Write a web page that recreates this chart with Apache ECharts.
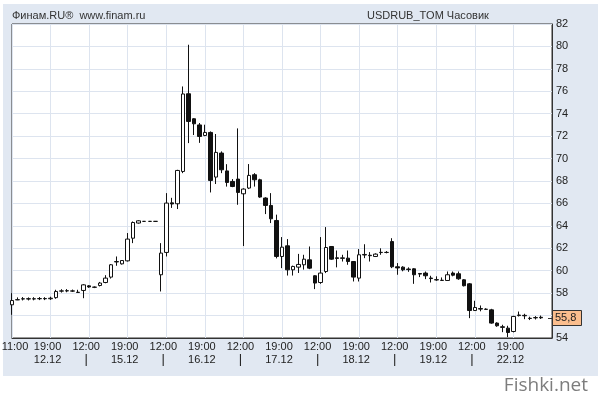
<!DOCTYPE html>
<html>
<head>
<meta charset="utf-8">
<script src="https://cdn.jsdelivr.net/npm/echarts@6/dist/echarts.min.js"></script>
<style>
html,body{margin:0;padding:0;background:#fff;}
#bg{position:absolute;left:3px;top:4px;width:595px;height:372px;background:#e1e8f2;}
#chart{position:absolute;left:0;top:0;width:600px;height:403px;}
</style>
</head>
<body>
<div id="bg"></div>
<div id="chart"></div>
<script>
// ---- data (hourly candles, USDRUB_TOM) ----
const timeTicks = ['11:00','19:00','12:00','19:00','12:00','19:00','12:00','19:00','12:00','19:00','12:00','19:00','12:00','19:00'];
const dateTicks = ['12.12','15.12','16.12','17.12','18.12','19.12','22.12'];
const slotCount = 99;

const opens = [56.96,57.40,57.48,57.50,57.48,57.50,57.52,57.50,57.60,58.18,58.20,58.20,58.08,58.24,58.65,58.52,58.68,58.95,59.43,60.78,60.61,60.88,62.90,64.25,64.40,64.40,64.40,
59.64,61.63,66.05,65.97,68.85,75.78,73.55,73.00,72.06,72.33,68.35,70.49,68.90,67.96,68.17,66.86,67.37,68.56,68.11,66.48,65.82,64.48,61.27,62.22,60.08,60.32,60.53,60.97,
59.55,58.95,59.93,62.16,61.15,61.10,61.12,60.82,59.34,61.40,61.38,61.27,61.62,61.63,62.60,60.35,60.32,60.15,60.17,59.75,59.79,59.35,59.20,59.13,59.13,59.79,59.73,59.19,
58.83,56.45,56.62,56.57,56.51,55.33,55.00,54.88,54.58,56.00,56.02,55.76,55.82,55.85];
const closes = [57.34,57.42,57.50,57.48,57.50,57.52,57.50,57.55,58.15,58.20,58.22,58.18,58.06,58.74,58.55,58.54,58.90,59.34,60.53,60.82,60.91,62.82,64.30,64.45,64.40,64.40,64.40,
61.57,66.03,65.95,68.94,75.76,73.31,73.10,71.97,72.33,68.05,70.55,69.00,67.87,67.51,66.98,67.28,68.50,68.11,66.57,65.82,64.63,61.27,62.10,60.08,60.38,60.56,61.03,60.23,
58.90,59.79,62.07,61.03,61.10,61.15,60.82,59.43,61.42,61.45,61.34,61.48,61.64,61.63,60.35,60.25,60.08,60.10,59.64,59.70,59.55,59.30,59.18,59.15,59.64,59.60,59.28,58.66,
56.45,56.72,56.58,56.55,55.33,55.09,54.95,54.49,55.92,56.05,55.98,55.74,55.80,55.80];
const lows = [56.07,57.38,57.35,57.35,57.36,57.38,57.38,57.40,57.50,58.05,58.08,58.10,58.04,57.55,58.48,58.45,58.60,58.88,59.30,60.44,60.55,60.82,62.46,64.20,64.38,64.38,64.38,
58.15,61.27,65.60,65.50,68.70,71.38,72.10,71.40,72.00,66.98,67.73,68.70,67.50,67.45,65.88,62.20,67.28,67.50,66.50,65.05,64.25,61.10,60.23,59.57,59.57,59.80,60.10,60.14,
58.36,58.83,59.79,60.97,60.30,60.82,60.53,59.04,59.04,61.12,60.82,61.22,61.42,61.55,60.23,59.64,59.95,59.90,58.83,59.43,59.25,58.95,59.10,59.10,59.10,59.50,59.19,58.60,
55.77,56.43,56.38,56.50,55.27,55.00,54.52,54.08,54.50,55.92,55.68,55.60,55.65,55.70];
const highs = [58.00,57.62,57.65,57.62,57.64,57.65,57.64,57.68,58.30,58.35,58.36,58.32,58.30,58.80,58.72,58.60,59.00,59.60,60.60,61.27,60.95,63.36,64.39,64.50,64.42,64.42,64.42,
62.46,66.92,66.50,69.00,76.43,80.15,73.60,73.17,73.02,72.42,72.19,70.64,69.50,68.17,72.69,67.35,69.51,68.70,68.20,66.55,66.92,65.00,63.00,62.82,60.45,61.50,61.42,62.16,
59.60,63.00,63.89,62.20,61.80,61.42,61.80,60.85,61.93,62.36,61.66,61.55,62.00,61.75,62.90,60.68,60.40,60.30,60.23,59.80,59.93,59.55,59.50,59.40,59.93,59.93,59.93,59.25,
58.90,57.32,56.90,56.65,56.60,55.40,55.18,55.09,55.98,56.36,56.16,55.90,55.95,56.00];
const yMin = 54, yMax = 82, yStep = 2;
const headerLeft = 'Финам.RU®  www.finam.ru';
const headerRight = 'USDRUB_TOM Часовик';
const watermark = 'Fishki.net';

// ---- build ----
const slots = [];
for (let i = 0; i < slotCount; i++) slots.push(String(i));
const candles = opens.map((o, i) => [o, closes[i], lows[i], highs[i]]);
const lastClose = closes[closes.length - 1];
const FONT = '"Liberation Sans", Arial, sans-serif';

const chart = echarts.init(document.getElementById('chart'), null, {renderer: 'canvas'});
chart.setOption({
  animation: false,
  backgroundColor: 'transparent',
  textStyle: {fontFamily: FONT, fontSize: 11, color: '#222'},
  grid: {left: 12, right: 48, top: 24, bottom: 65, show: true, backgroundColor: '#fff', borderColor: '#333', borderWidth: 1,
         containLabel: false, outerBoundsMode: 'none'},
  xAxis: {
    type: 'category', data: slots, boundaryGap: false,
    axisLine: {show: true, lineStyle: {color: '#333', width: 1}},
    axisTick: {show: false},
    splitLine: {show: true, interval: 6, lineStyle: {color: '#dde4ef', width: 1}},
    axisLabel: {
      interval: function (i) { return i % 7 === 0 && i / 7 < timeTicks.length; },
      margin: 3,
      hideOverlap: false,
      fontFamily: FONT, fontSize: 11, color: '#222', lineHeight: 12.5,
      formatter: function (v, i) {
        const k = i / 7;
        if (k === 0) return '{f|' + timeTicks[0] + '}\n{f|}';
        let second;
        if (k % 2 === 1) second = '{t|' + dateTicks[(k - 1) / 2] + '}';
        else second = '{s||}';
        return '{t|' + timeTicks[k] + '}\n' + second;
      },
      rich: {
        t: {fontFamily: FONT, fontSize: 11, color: '#222', lineHeight: 12.5, padding: [0, 6, 0, 0]},
        f: {fontFamily: FONT, fontSize: 11, color: '#222', lineHeight: 12.5, padding: [0, 0, 0, 6]},
        s: {fontFamily: FONT, fontSize: 13, color: '#222', lineHeight: 12.5, padding: [0, 6, 0, 0]}
      }
    }
  },
  yAxis: {
    type: 'value', position: 'right', min: yMin, max: yMax, interval: yStep,
    axisLine: {show: true, lineStyle: {color: '#333', width: 1}},
    axisTick: {show: false},
    splitLine: {show: true, lineStyle: {color: '#dde4ef', width: 1}},
    axisLabel: {margin: 4, fontFamily: FONT, fontSize: 11, color: '#222'}
  },
  series: [{
    type: 'candlestick',
    data: candles,
    barWidth: 4,
    itemStyle: {color: '#fff', color0: '#111', borderColor: '#111', borderColor0: '#111', borderColorDoji: '#111', borderWidth: 1}
  }]
});

const py = chart.convertToPixel({yAxisIndex: 0}, lastClose);
const priceText = lastClose.toFixed(1).replace('.', ',');
chart.setOption({
  graphic: {elements: [
    {type: 'text', left: 12, top: 10, style: {text: headerLeft, font: '11px ' + FONT, fill: '#333'}},
    {type: 'text', left: 367, top: 10, style: {text: headerRight, font: '11px ' + FONT, fill: '#333'}},
    {type: 'text', x: 588, y: 386, style: {text: watermark, align: 'right', verticalAlign: 'middle', font: '19px "Open Sans", sans-serif', fill: '#7d7d7d'}},
    {type: 'line', shape: {x1: 548, y1: Math.round(py) + 0.5, x2: 552, y2: Math.round(py) + 0.5}, style: {stroke: '#333', lineWidth: 1}, z: 100},
    {type: 'rect', shape: {x: 552.5, y: Math.round(py - 7.5) + 0.5, width: 29, height: 15}, style: {fill: '#fbbe8e', stroke: '#333', lineWidth: 1}, z: 100},
    {type: 'text', x: 555, y: py + 0.5, style: {text: priceText, verticalAlign: 'middle', font: '11px ' + FONT, fill: '#222'}, z: 101}
  ]}
});
</script>
</body>
</html>
